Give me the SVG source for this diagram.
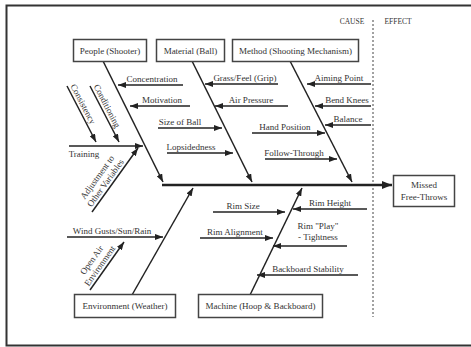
<svg xmlns="http://www.w3.org/2000/svg" width="471" height="347" viewBox="0 0 471 347">
<style>
text{font-family:"Liberation Serif","Times New Roman",serif;font-size:9px;fill:#333;text-anchor:middle}
.sm{font-size:7.5px}
.box{fill:#fff;stroke:#444;stroke-width:1.5}
.ln{stroke:#222;stroke-width:1.5;fill:none;marker-end:url(#ah)}
.spine{stroke:#222;stroke-width:2.5;fill:none;marker-end:url(#ahb)}
</style>
<defs>
<marker id="ah" viewBox="0 0 8 6" refX="8" refY="3" markerWidth="8" markerHeight="6" markerUnits="userSpaceOnUse" orient="auto"><path d="M0,0 L8,3 L0,6 z" fill="#222"/></marker>
<marker id="ahb" viewBox="0 0 10 8" refX="10" refY="4" markerWidth="10" markerHeight="8" markerUnits="userSpaceOnUse" orient="auto"><path d="M0,0 L10,4 L0,8 z" fill="#222"/></marker>
</defs>
<rect x="0" y="0" width="471" height="347" fill="#fff"/>
<rect x="6.5" y="5.5" width="470" height="340" fill="none" stroke="#333" stroke-width="2"/>
<text class="sm" x="352" y="24">CAUSE</text>
<text class="sm" x="398" y="24">EFFECT</text>
<line x1="373" y1="20" x2="373" y2="317" stroke="#444" stroke-width="1" stroke-dasharray="2 2"/>

<g id="connectors">
<line class="spine" x1="162" y1="185" x2="392" y2="185"/>
<line class="ln" x1="103" y1="61" x2="163" y2="182"/>
<line class="ln" x1="192" y1="61" x2="252" y2="182"/>
<line class="ln" x1="290" y1="61" x2="352" y2="182"/>
<line class="ln" x1="132" y1="295" x2="193" y2="188"/>
<line class="ln" x1="250" y1="295" x2="302" y2="188"/>
<line class="ln" x1="183" y1="85" x2="118" y2="85"/>
<line class="ln" x1="190" y1="106" x2="130" y2="106"/>
<line class="ln" x1="158" y1="128" x2="222" y2="128"/>
<line class="ln" x1="167" y1="153" x2="233" y2="153"/>
<line class="ln" x1="278" y1="84" x2="205" y2="84"/>
<line class="ln" x1="288" y1="106" x2="215" y2="106"/>
<line class="ln" x1="371" y1="84" x2="307" y2="84"/>
<line class="ln" x1="371" y1="106" x2="315" y2="106"/>
<line class="ln" x1="371" y1="125" x2="325" y2="125"/>
<line class="ln" x1="252" y1="133" x2="325" y2="133"/>
<line class="ln" x1="265" y1="159" x2="337" y2="159"/>
<line class="ln" x1="69" y1="146" x2="143" y2="146"/>
<line class="ln" x1="67" y1="86" x2="96" y2="142"/>
<line class="ln" x1="90" y1="86" x2="119" y2="142"/>
<line class="ln" x1="92" y1="212" x2="138" y2="148"/>
<line class="ln" x1="67" y1="237" x2="163" y2="237"/>
<line class="ln" x1="90" y1="290" x2="124" y2="242"/>
<line class="ln" x1="213" y1="212" x2="285" y2="212"/>
<line class="ln" x1="200" y1="238" x2="273" y2="238"/>
<line class="ln" x1="367" y1="209" x2="293" y2="209"/>
<line class="ln" x1="347" y1="246" x2="273" y2="246"/>
<line class="ln" x1="358" y1="275" x2="257" y2="275"/>
</g>

<g id="people"><rect class="box" x="73.5" y="39.5" width="73" height="22"/><text x="110" y="53.5">People (Shooter)</text></g>
<g id="material"><rect class="box" x="156.5" y="39.5" width="68" height="22"/><text x="190.5" y="53.5">Material (Ball)</text></g>
<g id="method"><rect class="box" x="232.5" y="39.5" width="126" height="22"/><text x="295.5" y="53.5">Method (Shooting Mechanism)</text></g>
<g id="effect"><rect class="box" x="393.5" y="175.5" width="61" height="31"/><text x="424" y="188">Missed</text><text x="424" y="200">Free-Throws</text></g>
<g id="environment"><rect class="box" x="74.5" y="294.5" width="101" height="23"/><text x="125" y="309">Environment (Weather)</text></g>
<g id="machine"><rect class="box" x="198.5" y="294.5" width="124" height="23"/><text x="260.5" y="309">Machine (Hoop &amp; Backboard)</text></g>

<g id="labels">
<text x="152" y="82">Concentration</text>
<text x="162" y="103">Motivation</text>
<text x="180" y="125">Size of Ball</text>
<text x="191" y="150">Lopsidedness</text>
<text x="245" y="81">Grass/Feel (Grip)</text>
<text x="251" y="103">Air Pressure</text>
<text x="339" y="81">Aiming Point</text>
<text x="347" y="103">Bend Knees</text>
<text x="348" y="122">Balance</text>
<text x="285" y="130">Hand Position</text>
<text x="294" y="156">Follow-Through</text>
<text x="84" y="157">Training</text>
<text x="112" y="234">Wind Gusts/Sun/Rain</text>
<text x="243" y="209">Rim Size</text>
<text x="235" y="235">Rim Alignment</text>
<text x="330" y="206">Rim Height</text>
<text x="318" y="229">Rim "Play"</text>
<text x="318" y="240">- Tightness</text>
<text x="308" y="272">Backboard Stability</text>
<text transform="translate(81.5,114) rotate(62.6)" x="-8" y="-3">Consistency</text>
<text transform="translate(104.5,114) rotate(62.6)" x="-6" y="-3">Conditioning</text>
<text transform="translate(115,180) rotate(-54.3)" x="-8" y="-13">Adjustment to</text>
<text transform="translate(115,180) rotate(-54.3)" x="-8" y="-3">Other Variables</text>
<text transform="translate(107,266) rotate(-54.7)" x="-4" y="-13">Open Air</text>
<text transform="translate(107,266) rotate(-54.7)" x="-4" y="-3">Environment</text>
</g>
</svg>
